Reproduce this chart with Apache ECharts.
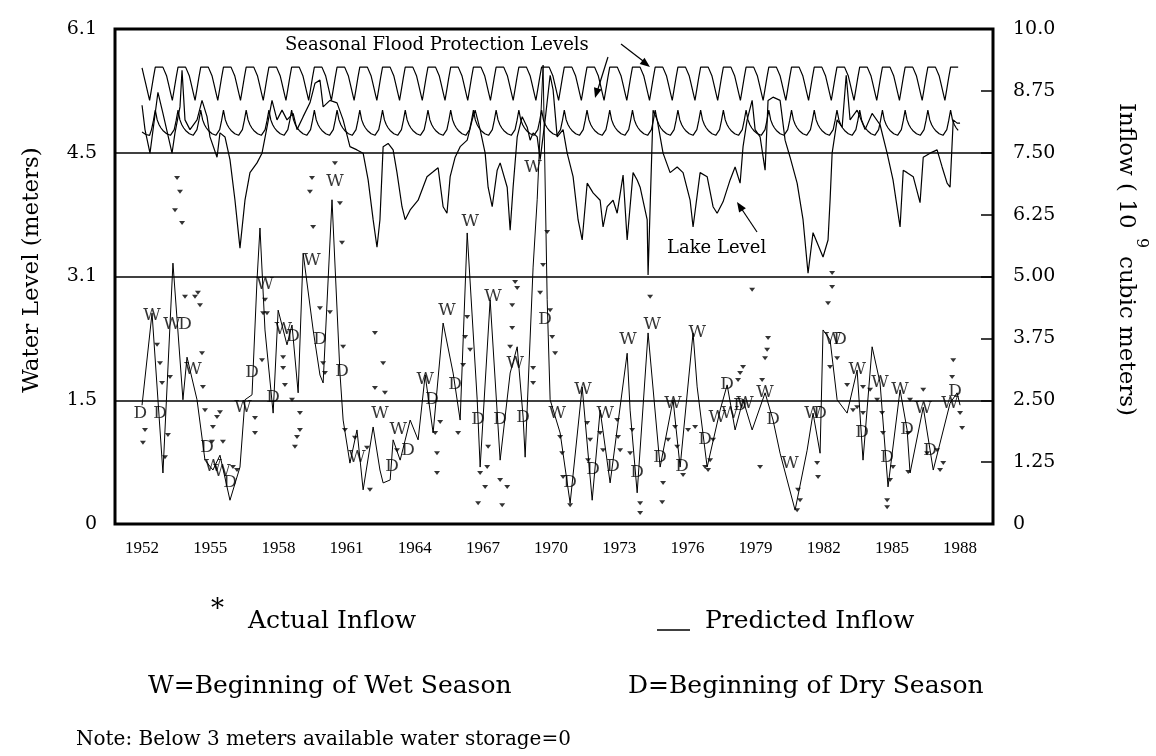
<!DOCTYPE html>
<html>
<head>
<meta charset="utf-8">
<title>Lake level, flood protection levels and inflow 1952-1988</title>
<script src="https://cdn.jsdelivr.net/npm/echarts@6.0.0/dist/echarts.min.js"></script>
<style>
  html, body { margin: 0; padding: 0; background: #fff; }
  #chart { width: 1156px; height: 756px; }
</style>
</head>
<body>
<div id="chart"></div>
<script>
// axis labels
var yearLabels = [1952, 1955, 1958, 1961, 1964, 1967, 1970, 1973, 1976, 1979, 1982, 1985, 1988]
var leftTicks = ['0', '1.5', '3.1', '4.5', '6.1']
var rightTicks = ['0', '1.25', '2.50', '3.75', '5.00', '6.25', '7.50', '8.75', '10.0']

// seasonal flood protection levels (meters), Jan..Dec, same every year
var floodYears = [1952, 1987]
var floodUpperByMonth = [5.62, 5.52, 5.42, 5.32, 5.22, 5.36, 5.50, 5.63, 5.63, 5.63, 5.63, 5.63]
var floodLowerByMonth = [4.83, 4.81, 4.80, 4.79, 4.79, 4.86, 4.97, 5.10, 4.98, 4.92, 4.88, 4.85]

// lake level (meters)
var lakeLevel = [
  [1952.00, 5.16], [1952.13, 4.86], [1952.35, 4.57], [1952.70, 5.32], [1952.92, 5.06], [1953.32, 4.57],
  [1953.45, 4.82], [1953.67, 5.14], [1953.76, 5.59], [1953.89, 4.98], [1954.11, 4.86], [1954.42, 4.98],
  [1954.64, 5.22], [1954.86, 5.02], [1954.99, 4.77], [1955.30, 4.52], [1955.43, 4.82], [1955.65, 4.77],
  [1955.87, 4.49], [1956.09, 3.99], [1956.31, 3.40], [1956.53, 3.99], [1956.75, 4.33], [1957.06, 4.45],
  [1957.28, 4.57], [1957.50, 4.89], [1957.72, 5.22], [1957.94, 4.98], [1958.16, 5.10], [1958.38, 4.98],
  [1958.65, 5.06], [1958.82, 4.86], [1959.09, 5.02], [1959.39, 5.19], [1959.61, 5.43], [1959.83, 5.47],
  [1959.97, 5.14], [1960.27, 5.22], [1960.58, 5.19], [1960.85, 4.98], [1961.15, 4.65], [1961.46, 4.61],
  [1961.73, 4.57], [1961.95, 4.24], [1962.17, 3.75], [1962.34, 3.41], [1962.47, 3.75], [1962.61, 4.65],
  [1962.83, 4.69], [1963.05, 4.61], [1963.22, 4.33], [1963.44, 3.91], [1963.58, 3.75], [1963.80, 3.87],
  [1964.15, 3.99], [1964.54, 4.28], [1964.81, 4.34], [1965.03, 4.39], [1965.25, 3.91], [1965.42, 3.83],
  [1965.56, 4.28], [1965.78, 4.52], [1966.00, 4.65], [1966.31, 4.73], [1966.53, 4.98], [1966.66, 5.10],
  [1966.88, 4.86], [1967.10, 4.57], [1967.23, 4.15], [1967.41, 3.91], [1967.63, 4.36], [1967.76, 4.45],
  [1968.07, 4.15], [1968.20, 3.62], [1968.33, 4.15], [1968.51, 4.77], [1968.73, 5.02], [1968.95, 4.89],
  [1969.08, 4.73], [1969.21, 4.82], [1969.39, 4.77], [1969.52, 4.49], [1969.74, 4.98], [1969.96, 5.53],
  [1970.09, 5.35], [1970.27, 4.77], [1970.53, 4.86], [1970.71, 4.57], [1970.97, 4.28], [1971.19, 3.75],
  [1971.37, 3.50], [1971.59, 4.20], [1971.85, 4.08], [1972.16, 3.99], [1972.29, 3.66], [1972.47, 3.91],
  [1972.73, 3.99], [1972.91, 3.83], [1973.17, 4.30], [1973.35, 3.50], [1973.61, 4.33], [1973.79, 4.24],
  [1973.92, 4.15], [1974.23, 3.75], [1974.27, 3.07], [1974.49, 5.10], [1974.67, 4.98], [1974.93, 4.57],
  [1975.24, 4.33], [1975.55, 4.40], [1975.81, 4.33], [1976.12, 3.99], [1976.25, 3.66], [1976.56, 4.33],
  [1976.87, 4.28], [1977.13, 3.91], [1977.31, 3.83], [1977.57, 3.97], [1977.88, 4.24], [1978.10, 4.40],
  [1978.32, 4.20], [1978.45, 4.65], [1978.63, 4.98], [1978.85, 5.22], [1978.98, 4.86], [1979.20, 4.77],
  [1979.42, 4.36], [1979.55, 5.22], [1979.77, 5.26], [1980.08, 5.22], [1980.30, 4.73], [1980.52, 4.52],
  [1980.83, 4.20], [1981.09, 3.75], [1981.31, 3.09], [1981.53, 3.59], [1981.97, 3.29], [1982.19, 3.50],
  [1982.28, 3.99], [1982.37, 4.57], [1982.59, 4.98], [1982.81, 4.89], [1982.99, 5.53], [1983.16, 4.98],
  [1983.47, 5.10], [1983.82, 4.86], [1984.13, 5.06], [1984.48, 4.92], [1984.79, 4.57], [1985.05, 4.24],
  [1985.36, 3.66], [1985.50, 4.36], [1985.67, 4.33], [1985.94, 4.28], [1986.24, 3.96], [1986.38, 4.52],
  [1986.68, 4.57], [1986.99, 4.61], [1987.21, 4.40], [1987.43, 4.20], [1987.56, 4.15], [1987.70, 4.98],
  [1987.87, 4.94], [1988.00, 4.94]
]

// predicted inflow (10^9 m3)
var predictedInflow = [
  [1952.00, 2.40], [1952.44, 4.26], [1952.92, 1.03], [1953.36, 5.27], [1953.80, 2.51], [1953.98, 3.37],
  [1954.42, 2.51], [1954.77, 1.29], [1955.12, 1.09], [1955.43, 1.39], [1955.87, 0.48], [1956.31, 1.15],
  [1956.53, 2.51], [1956.84, 2.61], [1957.06, 4.93], [1957.19, 5.98], [1957.41, 3.92], [1957.77, 2.24],
  [1957.99, 4.32], [1958.38, 3.62], [1958.60, 4.02], [1958.87, 2.65], [1959.09, 5.47], [1959.53, 3.92],
  [1959.83, 3.01], [1959.97, 2.85], [1960.36, 6.55], [1960.71, 3.05], [1960.85, 2.10], [1961.15, 1.23],
  [1961.46, 1.90], [1961.73, 0.69], [1962.17, 1.96], [1962.47, 1.09], [1962.61, 0.83], [1962.92, 0.89],
  [1963.05, 1.70], [1963.36, 1.29], [1963.80, 2.10], [1964.15, 1.70], [1964.46, 3.01], [1964.81, 1.84],
  [1965.25, 4.06], [1965.69, 3.05], [1966.00, 2.10], [1966.31, 5.88], [1966.75, 2.51], [1966.88, 1.15],
  [1967.32, 4.53], [1967.76, 1.29], [1968.20, 3.05], [1968.51, 3.58], [1968.77, 2.16], [1968.86, 1.35],
  [1969.21, 5.19], [1969.39, 6.55], [1969.65, 9.27], [1969.83, 4.53], [1969.96, 2.51], [1970.40, 1.84],
  [1970.84, 0.42], [1971.37, 2.77], [1971.81, 0.48], [1972.16, 2.30], [1972.60, 0.83], [1973.35, 3.45],
  [1973.48, 2.30], [1973.79, 0.63], [1974.27, 3.86], [1974.80, 1.15], [1975.37, 2.51], [1975.68, 1.15],
  [1976.25, 3.86], [1976.43, 2.77], [1976.87, 1.15], [1977.44, 2.30], [1977.75, 2.81], [1978.10, 1.90],
  [1978.45, 2.51], [1978.85, 1.90], [1979.42, 2.65], [1979.77, 2.10], [1980.08, 1.43], [1980.74, 0.28],
  [1981.27, 1.49], [1981.53, 2.24], [1981.84, 1.43], [1981.97, 3.92], [1982.28, 3.72], [1982.59, 2.51],
  [1983.03, 2.24], [1983.47, 3.11], [1983.73, 1.29], [1984.13, 3.58], [1984.48, 2.85], [1984.83, 0.75],
  [1985.36, 2.71], [1985.67, 1.90], [1985.80, 1.03], [1986.38, 2.36], [1986.82, 1.09], [1987.56, 2.44],
  [1987.87, 2.65], [1988.00, 2.40]
]

// actual inflow (10^9 m3)
var actualInflow = [
  [1953.54, 6.99], [1953.67, 6.71], [1953.45, 6.34], [1953.76, 6.08], [1953.89, 4.59], [1954.33, 4.59],
  [1954.46, 4.67], [1954.55, 4.42], [1952.66, 3.62], [1952.79, 3.25], [1952.88, 2.85], [1953.23, 2.97],
  [1954.64, 3.45], [1954.68, 2.77], [1954.77, 2.30], [1955.30, 2.16], [1955.43, 2.26], [1955.12, 1.96],
  [1955.08, 1.66], [1955.56, 1.66], [1952.13, 1.90], [1952.04, 1.64], [1953.14, 1.80], [1953.01, 1.35],
  [1956.00, 1.15], [1956.18, 1.09], [1956.97, 1.84], [1956.97, 2.14], [1957.41, 4.53], [1957.33, 4.26],
  [1957.50, 4.26], [1957.28, 3.31], [1958.21, 3.15], [1958.29, 2.81], [1958.21, 3.37], [1958.60, 2.51],
  [1958.95, 2.24], [1958.95, 1.90], [1958.73, 1.56], [1958.82, 1.76], [1959.53, 6.00], [1959.39, 6.71],
  [1959.48, 6.99], [1959.83, 4.36], [1960.27, 4.28], [1960.49, 7.29], [1960.71, 6.48], [1960.80, 5.68],
  [1960.85, 3.58], [1959.97, 3.25], [1960.05, 3.05], [1962.25, 3.86], [1962.61, 3.25], [1962.25, 2.75],
  [1962.69, 2.65], [1961.37, 1.74], [1960.93, 1.90], [1961.90, 1.54], [1963.22, 1.49], [1962.03, 0.69],
  [1969.83, 5.90], [1969.65, 5.23], [1969.52, 4.67], [1969.96, 4.32], [1970.05, 3.78], [1970.18, 3.45],
  [1968.42, 4.89], [1968.51, 4.77], [1968.29, 4.42], [1968.29, 3.96], [1968.20, 3.58], [1966.31, 4.18],
  [1966.22, 3.78], [1966.13, 3.21], [1966.44, 3.52], [1969.21, 3.15], [1969.21, 2.85], [1974.36, 4.59],
  [1965.12, 2.06], [1964.90, 1.84], [1964.98, 1.43], [1964.98, 1.03], [1965.91, 1.84], [1967.23, 1.56],
  [1967.19, 1.15], [1966.88, 1.03], [1966.79, 0.42], [1967.10, 0.75], [1967.85, 0.38], [1968.07, 0.75],
  [1967.76, 0.89], [1970.40, 1.76], [1970.49, 1.43], [1970.53, 0.95], [1970.84, 0.38], [1971.59, 2.04],
  [1971.72, 1.70], [1971.63, 1.29], [1972.16, 1.84], [1972.29, 1.49], [1972.91, 2.10], [1972.95, 1.76],
  [1973.04, 1.49], [1973.57, 1.90], [1973.48, 1.43], [1973.92, 0.42], [1973.92, 0.22], [1974.89, 0.44],
  [1974.93, 0.83], [1975.15, 1.70], [1975.46, 1.96], [1975.55, 1.56], [1975.81, 0.99], [1976.03, 1.90],
  [1982.37, 5.07], [1982.37, 4.79], [1982.19, 4.46], [1987.70, 3.31], [1987.65, 2.97], [1988.00, 2.24],
  [1988.09, 1.94], [1979.55, 3.76], [1979.51, 3.52], [1979.42, 3.35], [1978.45, 3.17], [1978.32, 3.05],
  [1978.23, 2.91], [1979.29, 2.91], [1979.20, 1.15], [1981.71, 1.23], [1981.75, 0.95], [1980.87, 0.69],
  [1980.96, 0.48], [1980.83, 0.28], [1984.79, 0.48], [1984.79, 0.34], [1984.92, 0.89], [1985.05, 1.15],
  [1986.55, 1.43], [1986.99, 1.49], [1987.26, 1.23], [1987.12, 1.09], [1983.47, 2.36], [1983.73, 2.24],
  [1984.04, 2.71], [1984.35, 2.51], [1984.57, 2.24], [1984.61, 1.84], [1983.73, 2.77], [1976.78, 1.15],
  [1977.00, 1.29], [1976.91, 1.09], [1976.34, 1.96], [1977.13, 1.70], [1986.38, 2.71], [1985.80, 2.51],
  [1985.72, 1.84], [1985.72, 1.05], [1982.59, 3.35], [1983.03, 2.81], [1983.29, 2.30], [1982.28, 3.17],
  [1978.85, 4.73]
]

// W = beginning of wet season, D = beginning of dry season (on inflow scale)
var wetStarts = [
  [1952.44, 4.22], [1953.32, 4.02], [1954.24, 3.11], [1955.12, 1.15], [1955.52, 1.05], [1956.44, 2.36],
  [1957.41, 4.83], [1958.21, 3.92], [1959.48, 5.33], [1960.49, 6.91], [1961.46, 1.35], [1962.47, 2.24],
  [1963.27, 1.90], [1964.46, 2.91], [1965.42, 4.32], [1966.44, 6.10], [1967.45, 4.59], [1968.42, 3.25],
  [1969.21, 7.21], [1970.27, 2.24], [1971.41, 2.71], [1972.38, 2.24], [1973.39, 3.72], [1974.45, 4.02],
  [1975.37, 2.44], [1976.43, 3.86], [1977.31, 2.16], [1977.88, 2.24], [1978.54, 2.44], [1979.42, 2.65],
  [1980.52, 1.23], [1981.53, 2.24], [1982.41, 3.72], [1983.47, 3.11], [1984.48, 2.85], [1985.36, 2.71],
  [1986.38, 2.34], [1987.56, 2.44]
]
var dryStarts = [
  [1951.92, 2.24], [1952.79, 2.24], [1953.89, 4.02], [1954.86, 1.54], [1955.87, 0.83], [1956.84, 3.05],
  [1957.77, 2.55], [1958.65, 3.78], [1959.83, 3.72], [1960.80, 3.07], [1963.00, 1.15], [1963.71, 1.49],
  [1964.76, 2.51], [1965.78, 2.81], [1966.79, 2.10], [1967.76, 2.10], [1968.77, 2.16], [1969.74, 4.12],
  [1970.84, 0.83], [1971.85, 1.09], [1972.73, 1.15], [1973.79, 1.03], [1974.80, 1.35], [1975.77, 1.15],
  [1976.78, 1.70], [1977.75, 2.81], [1978.32, 2.40], [1979.77, 2.10], [1981.84, 2.24], [1982.72, 3.72],
  [1983.69, 1.84], [1984.79, 1.35], [1985.67, 1.90], [1986.68, 1.49], [1987.78, 2.67]
]

// monthly rows of a seasonal level table
function seasonal (byMonth) {
  var rows = []
  for (var y = floodYears[0]; y <= floodYears[1]; y++) {
    for (var m = 0; m < 12; m++) rows.push([y + m / 12, byMonth[m]])
  }
  return rows
}

var serif = '"DejaVu Serif", serif'
var blk = '#000'

function txt (x, y, text, size, extra) {
  var el = {
    type: 'text', x: x, y: y,
    style: { text: text, font: size + 'px ' + serif, fill: blk, textAlign: 'left', textVerticalAlign: 'middle' }
  }
  if (extra) Object.assign(el, extra)
  return el
}

var chart = echarts.init(document.getElementById('chart'))
var option = {
  animation: false,
  backgroundColor: '#fff',
  grid: { left: 115, right: 163, top: 29, bottom: 232, show: true, borderColor: blk, borderWidth: 3, outerBoundsMode: 'none' },
  xAxis: {
    type: 'value', min: 1950.81, max: 1989.45,
    axisLine: { show: false }, axisTick: { show: false }, splitLine: { show: false },
    axisLabel: {
      customValues: yearLabels, color: blk, fontFamily: 'Liberation Serif', fontSize: 17, margin: 16,
      formatter: function (v) { return String(v) }
    }
  },
  yAxis: [
    {
      type: 'value', min: 0, max: 6.1, interval: 1.525,
      axisLine: { show: false }, axisTick: { show: false },
      splitLine: { show: true, lineStyle: { color: blk, width: 1.5 } },
      axisLabel: {
        color: blk, fontFamily: serif, fontSize: 19, margin: 18,
        formatter: function (v) { return leftTicks[Math.round(v / 1.525)] }
      }
    },
    {
      type: 'value', min: 0, max: 10, interval: 1.25, position: 'right',
      axisLine: { show: false }, splitLine: { show: false },
      axisTick: { show: true, inside: true, length: 12, lineStyle: { color: blk, width: 1.5 } },
      axisLabel: {
        color: blk, fontFamily: serif, fontSize: 19, margin: 20,
        formatter: function (v) { return rightTicks[Math.round(v / 1.25)] }
      }
    }
  ],
  series: [
    { name: 'Flood upper', type: 'line', yAxisIndex: 0, data: seasonal(floodUpperByMonth), showSymbol: false, lineStyle: { color: blk, width: 1.2 } },
    { name: 'Flood lower', type: 'line', yAxisIndex: 0, data: seasonal(floodLowerByMonth), showSymbol: false, lineStyle: { color: blk, width: 1.2 } },
    { name: 'Lake Level', type: 'line', yAxisIndex: 0, data: lakeLevel, showSymbol: false, lineStyle: { color: blk, width: 1.2 } },
    { name: 'Predicted Inflow', type: 'line', yAxisIndex: 1, data: predictedInflow, showSymbol: false, lineStyle: { color: blk, width: 1 } },
    {
      name: 'Actual Inflow', type: 'scatter', yAxisIndex: 1, data: actualInflow,
      symbol: 'path://M0,0L10,0L5,7Z', symbolSize: [6, 4], itemStyle: { color: blk }
    },
    {
      name: 'W', type: 'scatter', yAxisIndex: 1, data: wetStarts, symbolSize: 1, itemStyle: { color: 'rgba(0,0,0,0)' },
      label: { show: true, position: 'inside', formatter: 'W', color: blk, fontFamily: serif, fontSize: 17 }
    },
    {
      name: 'D', type: 'scatter', yAxisIndex: 1, data: dryStarts, symbolSize: 1, itemStyle: { color: 'rgba(0,0,0,0)' },
      label: { show: true, position: 'inside', formatter: 'D', color: blk, fontFamily: serif, fontSize: 17 }
    }
  ],
  graphic: [
    // axis names
    txt(32, 270, 'Water Level (meters)', 23, { rotation: Math.PI / 2, style: { text: 'Water Level (meters)', font: '23px ' + serif, fill: blk, textAlign: 'center', textVerticalAlign: 'middle' } }),
    txt(1126, 103, 'Inflow ( 10', 23, { rotation: -Math.PI / 2 }),
    txt(1141, 238, '9', 16, { rotation: -Math.PI / 2 }),
    txt(1126, 256, 'cubic meters)', 23, { rotation: -Math.PI / 2 }),
    // annotations in the plot
    txt(285, 45, 'Seasonal Flood Protection Levels', 18),
    { type: 'line', shape: { x1: 621, y1: 44, x2: 647, y2: 64 }, style: { stroke: blk, lineWidth: 1.2 } },
    { type: 'polygon', shape: { points: [[650, 67], [639.7, 64.1], [644.5, 57.7]] }, style: { fill: blk } },
    { type: 'line', shape: { x1: 608, y1: 57, x2: 597, y2: 92 }, style: { stroke: blk, lineWidth: 1.2 } },
    { type: 'polygon', shape: { points: [[595, 98], [601.6, 89.5], [594, 87.3]] }, style: { fill: blk } },
    txt(667, 248, 'Lake Level', 18),
    { type: 'line', shape: { x1: 757, y1: 232, x2: 741, y2: 208 }, style: { stroke: blk, lineWidth: 1.2 } },
    { type: 'polygon', shape: { points: [[737, 202], [745.9, 208.2], [739.1, 212.6]] }, style: { fill: blk } },
    // key below the chart
    txt(211, 610, '*', 26),
    txt(248, 621, 'Actual Inflow', 25),
    { type: 'line', shape: { x1: 657, y1: 630, x2: 690, y2: 630 }, style: { stroke: blk, lineWidth: 1.5 } },
    txt(705, 621, 'Predicted Inflow', 25),
    txt(148, 686, 'W=Beginning of Wet Season', 25),
    txt(628, 686, 'D=Beginning of Dry Season', 25),
    txt(76, 740, 'Note: Below 3 meters available water storage=0', 20)
  ]
}
chart.setOption(option)
</script>
</body>
</html>
